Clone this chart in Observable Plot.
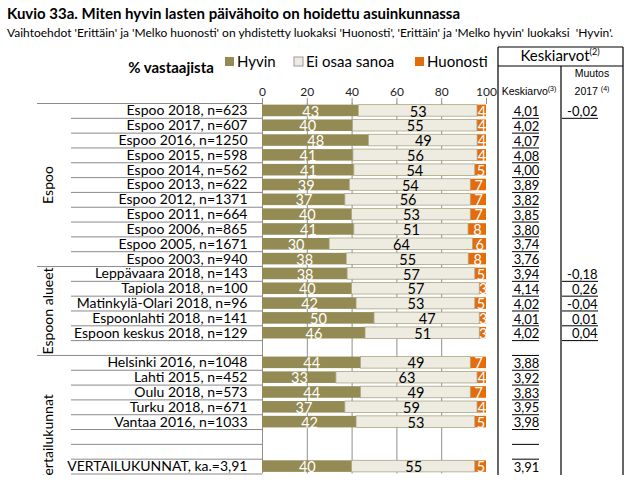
<!DOCTYPE html>
<html><head><meta charset="utf-8">
<script src="https://cdn.jsdelivr.net/npm/d3@7"></script>
<script src="https://cdn.jsdelivr.net/npm/@observablehq/plot@0.6"></script>
<style>
body{margin:0;background:#fff;font-family:Lato,sans-serif;color:#000;}
#head{height:40px;position:relative;}
#title{position:absolute;left:7px;top:4px;font-size:15px;font-weight:bold;white-space:pre;}
#sub{position:absolute;left:7px;top:25px;font-size:12px;white-space:pre;}
</style></head><body>
<div id="head"><div id="title">Kuvio 33a. Miten hyvin lasten päivähoito on hoidettu asuinkunnassa</div><div id="sub">Vaihtoehdot 'Erittäin' ja 'Melko huonosti' on yhdistetty luokaksi 'Huonosti', 'Erittäin' ja 'Melko hyvin' luokaksi  'Hyvin'.</div></div>
<div id="chart"></div>
<script>
const labels = ["Espoo 2018, n=623","Espoo 2017, n=607","Espoo 2016, n=1250","Espoo 2015, n=598","Espoo 2014, n=562","Espoo 2013, n=622","Espoo 2012, n=1371","Espoo 2011, n=664","Espoo 2006, n=865","Espoo 2005, n=1671","Espoo 2003, n=940",
  "Leppävaara 2018, n=143","Tapiola 2018, n=100","Matinkylä-Olari 2018, n=96","Espoonlahti 2018, n=141","Espoon keskus 2018, n=129","",
  "Helsinki 2016, n=1048","Lahti 2015, n=452","Oulu 2018, n=573","Turku 2018, n=671","Vantaa 2016, n=1033","","","VERTAILUKUNNAT, ka.=3,91"];
const hyvin       = [43,40,48,41,41,39,37,40,41,30,38, 38,40,42,50,46,null, 44,33,44,37,42,null,null,40];
const eiOsaaSanoa = [53,55,49,56,54,54,56,53,51,64,55, 57,57,53,47,51,null, 49,63,49,59,53,null,null,55];
const huonosti    = [4,4,4,4,5,7,7,7,8,6,8, 5,3,5,3,3,null, 7,4,7,4,5,null,null,5];
const keskiarvo   = [4.01,4.02,4.07,4.08,4.00,3.89,3.82,3.85,3.80,3.74,3.76, 3.94,4.14,4.02,4.01,4.02,null, 3.88,3.92,3.83,3.95,3.98,null,null,3.91];
const muutos2017  = [-0.02,null,null,null,null,null,null,null,null,null,null, -0.18,0.26,-0.04,0.01,0.04,null, null,null,null,null,null,null,null,null];
const groupNames = ["Espoo","Espoon alueet","Vertailukunnat"];
const groupFirst = [0,11,17];
const groupLast  = [10,16,24];
const seriesNames = ["Hyvin","Ei osaa sanoa","Huonosti"];
const seriesColors = ["#948A54","#EEECE1","#E46C0A"];
const xTicks = [0,20,40,60,80,100];

const W=637, H=435, mT=63, mB=1.5, mL=262, mR=151;
const n = labels.length, step = (H-mT-mB)/n;
const keys = labels.map((_, i) => "r"+i);
const labelOf = Object.fromEntries(keys.map((k,i)=>[k,labels[i]]));
const xPx = px => (px - mL) / (W - mL - mR) * 100;
const fmt = v => v.toFixed(2).replace(".", ",");

const segs = [];
keys.forEach((k, i) => {
  if (hyvin[i] == null) return;
  const vals = [hyvin[i], eiOsaaSanoa[i], huonosti[i]];
  const tot = d3.sum(vals);
  let acc = 0;
  vals.forEach((v, j) => { const x1 = acc/tot*100; acc += v; segs.push({key:k, series:seriesNames[j], value:v, x1, x2:acc/tot*100}); });
});
const boundary = new Set(groupLast.slice(0,-1));
const meanKeys = keys.filter((k,i)=>keskiarvo[i]!=null);
const changeKeys = keys.filter((k,i)=>muutos2017[i]!=null);

const groupMarks = groupNames.map((name, gi) => {
  const f = groupFirst[gi], l = groupLast[gi];
  if (gi === groupNames.length-1) {
    return Plot.text([name], {x: xPx(48), y: [keys[l]], text: d=>d, rotate:-90, textAnchor:"start", dy: step/2+10, fontSize:14, fill:"black"});
  }
  const mid = Math.floor((f+l)/2);
  const dy = (l-f) % 2 === 1 ? step/2 : 0;
  return Plot.text([name], {x: xPx(48), y: [keys[mid]], text: d=>d, rotate:-90, dy, fontSize:14, fill:"black"});
});

const chart = Plot.plot({
  width: W, height: H,
  marginTop: mT, marginBottom: mB, marginLeft: mL, marginRight: mR,
  style: {fontFamily: "Lato, sans-serif", fontSize: "14px", color: "black", overflow: "hidden"},
  x: {domain: [0,100]},
  y: {domain: keys, paddingInner: 0.22, paddingOuter: 0.11, round: false},
  color: {domain: seriesNames, range: seriesColors},
  marks: [
    Plot.ruleX(xTicks.slice(0,-1), {stroke:"#8f8f8f"}),
    Plot.barX(segs, {x1:"x1", x2:"x2", y:"key", fill:"series"}),
    Plot.barX(segs.filter(d=>d.series===seriesNames[1]), {x1:"x1", x2:"x2", y:"key", fill:"none", stroke:"#aaa583", strokeWidth:0.8}),
    Plot.text(segs.filter(d=>d.series!==seriesNames[1]), {x:d=>(d.x1+d.x2)/2, y:"key", text:"value", fill:"white", fontSize:14.5, dy:1}),
    Plot.text(segs.filter(d=>d.series===seriesNames[1]), {x:d=>(d.x1+d.x2)/2, y:"key", text:"value", fill:"black", fontSize:14.5, dy:1}),
    Plot.axisX({anchor:"top", ticks:xTicks, tickSize:6, tickPadding:2, stroke:"#8f8f8f", fill:"#222", fontSize:12, label:null}),
    Plot.axisY({tickSize:0, tickPadding:15, tickFormat:k=>labelOf[k], fontSize:14, fill:"black", label:null}),
    Plot.ruleY(keys, {y:k=>k, x1:k=>boundary.has(keys.indexOf(k)) ? xPx(37) : xPx(71), x2:0, dy:step/2, stroke:"#8a8a8a"}),
    Plot.ruleY([keys[0]], {y:k=>k, x1:xPx(37), x2:0, dy:-step/2, stroke:"#8a8a8a"}),
    Plot.ruleY(keys.slice(0,-1), {y:k=>k, x1:xPx(512), x2:xPx(539), dy:step/2, stroke:"black"}),
    Plot.ruleY(changeKeys, {y:k=>k, x1:xPx(562), x2:xPx(598), dy:step/2, stroke:"black"}),
    Plot.text(meanKeys, {y:k=>k, x:xPx(526), text:k=>fmt(keskiarvo[keys.indexOf(k)]), textAnchor:"middle", fontSize:13, dy:1, fill:"black"}),
    Plot.text(changeKeys, {y:k=>k, x:xPx(597), text:k=>fmt(muutos2017[keys.indexOf(k)]), textAnchor:"end", fontSize:13, dy:1, fill:"black"}),
    ...groupMarks
  ]
});
document.getElementById("chart").appendChild(chart);

const color = chart.scale("color");
const svg = d3.select(chart);
const deco = svg.append("g").attr("text-anchor","start");
// legend
const legX = [225, 294, 415];
seriesNames.forEach((s, i) => {
  deco.append("rect").attr("x", legX[i]).attr("y", 17).attr("width", 9).attr("height", 9)
    .attr("fill", color.apply(s)).attr("stroke", i===1 ? "#9a9a9a" : "none");
  deco.append("text").attr("x", legX[i]+12).attr("y", 22).attr("dy","0.35em").attr("text-anchor","start")
    .attr("font-size", 15).attr("fill","black").text(s);
});
deco.append("text").attr("x", 171).attr("y", 28).attr("dy","0.35em").attr("text-anchor","middle")
  .attr("font-size", 15).attr("font-weight","bold").attr("fill","black").text("% vastaajista");
// table frame
const L = [[498,7,623,7],[498,26,623,26],[498,7,498,H],[623,7,623,H],[561,26,561,H]];
L.forEach(([x1,y1,x2,y2]) => deco.append("line").attr("x1",x1).attr("y1",y1).attr("x2",x2).attr("y2",y2).attr("stroke","black").attr("stroke-width",1.2));
const t1 = deco.append("text").attr("x",560).attr("y",21).attr("text-anchor","middle").attr("font-size",15).attr("fill","black");
t1.append("tspan").text("Keskiarvot");
t1.append("tspan").attr("font-size",9).attr("dy",-6).text("(2)");
const narrow = "'Liberation Sans Narrow', 'Liberation Sans', sans-serif";
const t2 = deco.append("text").attr("x",529).attr("y",55).attr("text-anchor","middle").attr("font-size",10.5).attr("font-family",narrow).attr("fill","black");
t2.append("tspan").text("Keskiarvo");
t2.append("tspan").attr("font-size",7).attr("dy",-4).text("(3)");
deco.append("text").attr("x",592).attr("y",37).attr("text-anchor","middle").attr("font-size",10.5).attr("font-family",narrow).attr("fill","black").text("Muutos");
const t3 = deco.append("text").attr("x",592).attr("y",55).attr("text-anchor","middle").attr("font-size",10.5).attr("font-family",narrow).attr("fill","black");
t3.append("tspan").text("2017 ");
t3.append("tspan").attr("font-size",7).attr("dy",-4).text("(4)");
</script>
</body></html>
